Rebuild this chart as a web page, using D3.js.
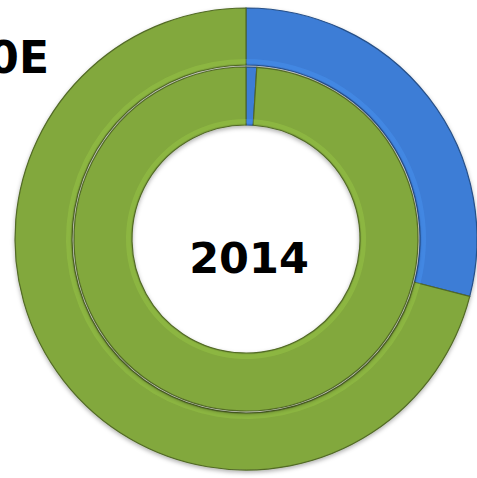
<!DOCTYPE html>
<html><head><meta charset="utf-8">
<script src="https://cdn.jsdelivr.net/npm/d3@7"></script>
<style>html,body{margin:0;padding:0;background:#fff;overflow:hidden}</style>
</head><body>
<svg id="c" width="477" height="478"></svg>
<script>
const categories = ["Blue", "Green"];
const outerValues = [29, 71];   // 2020E ring
const innerValues = [1, 99];    // 2014 ring
const outerLabel = "2020E";
const centerLabel = "2014";
const colors = ["#3d7dd6", "#82a83c"];

const svg = d3.select("#c");
const cx = 246, cy = 239;
const defs = svg.append("defs");
const f = defs.append("filter").attr("id","sh").attr("x","-10%").attr("y","-10%").attr("width","120%").attr("height","120%");
f.append("feDropShadow").attr("dx",0).attr("dy",2).attr("stdDeviation",2).attr("flood-color","#000").attr("flood-opacity",0.3);

const color = d3.scaleOrdinal().domain(categories).range(colors);
const pie = d3.pie().sort(null).value(d => d.v);
const g = svg.append("g").attr("transform", `translate(${cx},${cy})`);

function ring(values, r0, r1) {
  const data = pie(categories.map((c,i) => ({c, v: values[i]})));
  const arc = d3.arc().innerRadius(r0).outerRadius(r1);
  const gg = g.append("g").attr("filter","url(#sh)");
  gg.selectAll("path.s").data(data).join("path").attr("class","s")
    .attr("d", arc)
    .attr("fill", d => color(d.data.c))
    .attr("stroke", d => d3.color(color(d.data.c)).darker(1.3))
    .attr("stroke-width", 1.2);
  // soft bevel highlight near inner edge
  const hl = d3.arc().innerRadius(r0 + 1.5).outerRadius(r0 + 6);
  g.append("g").selectAll("path").data(data).join("path")
    .attr("d", hl).attr("fill", d => d3.color(color(d.data.c)).brighter(0.7)).attr("opacity",0.3);
}
ring(outerValues, 174, 231);
ring(innerValues, 114, 172);

svg.append("text").attr("x", 249).attr("y", 273).attr("text-anchor","middle")
  .attr("font-family","DejaVu Sans").attr("font-weight","bold").attr("font-size",43).attr("fill","#000")
  .text(centerLabel);
svg.append("text").attr("x", 49).attr("y", 73).attr("text-anchor","end")
  .attr("font-family","DejaVu Sans").attr("font-weight","bold").attr("font-size",44).attr("fill","#000")
  .text(outerLabel);
</script>
</body></html>
